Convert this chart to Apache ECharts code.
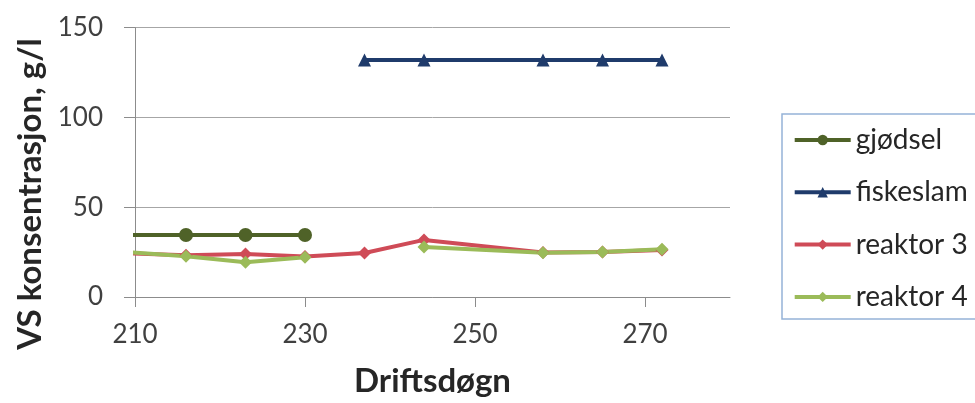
<!DOCTYPE html>
<html>
<head>
<meta charset="utf-8">
<style>
  html, body { margin: 0; padding: 0; background: #ffffff; }
  #chart { width: 975px; height: 403px; }
</style>
<script src="https://cdn.jsdelivr.net/npm/echarts@6/dist/echarts.min.js"></script>
</head>
<body>
<div id="chart"></div>
<script>
// Operating day of each sample (weekly sampling; day 251 was not sampled)
const days = [209, 216, 223, 230, 237, 244, 258, 265, 272];

// VS concentration, g/l (null = no sample for that substrate)
const gjodsel   = [34.5, 34.5, 34.5, 34.5, null, null, null, null, null];
const fiskeslam = [null, null, null, null, 132, 132, 132, 132, 132];
const reaktor3  = [24.4, 23.2, 24.0, 22.6, 24.5, 31.8, 24.8, 25.0, 26.2];
const reaktor4  = [25.1, 22.7, 19.4, 22.1, null, 27.8, 24.6, 25.1, 26.6];

const seriesNames = ['gjødsel', 'fiskeslam', 'reaktor 3', 'reaktor 4'];
const xTicks = [210, 230, 250, 270];
const yTicks = [0, 50, 100, 150];

const FONT = 'Lato, "Open Sans", sans-serif';
const TEXT = '#262626';

function pairs(values) {
  return days.map((d, i) => [d, values[i]]);
}

function lineSeries(name, values, color, symbol, size) {
  return {
    name: name,
    type: 'line',
    data: pairs(values),
    connectNulls: false,
    clip: true,
    symbol: symbol,
    symbolSize: size,
    showSymbol: true,
    lineStyle: { color: color, width: 4 },
    itemStyle: { color: color },
    emphasis: { disabled: true },
    animation: false
  };
}

const chart = echarts.init(document.getElementById('chart'), null, { renderer: 'canvas' });

chart.setOption({
  backgroundColor: '#ffffff',
  animation: false,
  grid: { left: 135, right: 245, top: 27.7, bottom: 103, containLabel: false },
  xAxis: {
    type: 'value',
    min: 210,
    max: 280,
    interval: 20,
    name: 'Driftsdøgn',
    nameLocation: 'middle',
    nameGap: 68,
    nameTextStyle: { fontFamily: FONT, fontSize: 33, fontWeight: 'bold', color: TEXT },
    axisLine: { show: true, lineStyle: { color: '#8c8c8c', width: 1 } },
    axisTick: { show: true, length: 10, customValues: xTicks, lineStyle: { color: '#8c8c8c' } },
    axisLabel: { customValues: xTicks, margin: 25, fontFamily: FONT, fontSize: 26, color: '#404040' },
    splitLine: { show: false }
  },
  yAxis: {
    type: 'value',
    min: yTicks[0],
    max: yTicks[yTicks.length - 1],
    interval: 50,
    axisLine: { show: true, lineStyle: { color: '#8c8c8c', width: 1 } },
    axisTick: { show: true, length: 11, lineStyle: { color: '#8c8c8c' } },
    axisLabel: { margin: 32, fontFamily: FONT, fontSize: 26, color: '#404040' },
    splitLine: { show: true, lineStyle: { color: '#a6a6a6', width: 1 } }
  },
  legend: {
    orient: 'vertical',
    left: 782,
    top: 114,
    data: seriesNames,
    padding: [12, 80, 8, 10.7],
    itemWidth: 56,
    itemHeight: 13,
    itemGap: 24.3,
    borderColor: '#95b3d7',
    borderWidth: 1.5,
    backgroundColor: '#ffffff',
    lineStyle: { width: 4 },
    textStyle: { fontFamily: FONT, fontSize: 28, lineHeight: 28, color: TEXT },
    selectedMode: false
  },
  graphic: [{
    type: 'text',
    x: 30,
    y: 194,
    rotation: Math.PI / 2,
    style: {
      text: 'VS konsentrasjon, g/l',
      fontFamily: FONT,
      fontSize: 33,
      fontWeight: 'bold',
      fill: TEXT,
      align: 'center',
      verticalAlign: 'middle'
    }
  }],
  series: [
    lineSeries(seriesNames[0], gjodsel, '#4f6228', 'circle', 14),
    lineSeries(seriesNames[1], fiskeslam, '#1f3b6b', 'triangle', 13),
    lineSeries(seriesNames[2], reaktor3, '#cf4b57', 'diamond', 13),
    lineSeries(seriesNames[3], reaktor4, '#9bbb59', 'diamond', 13)
  ]
});
</script>
</body>
</html>
